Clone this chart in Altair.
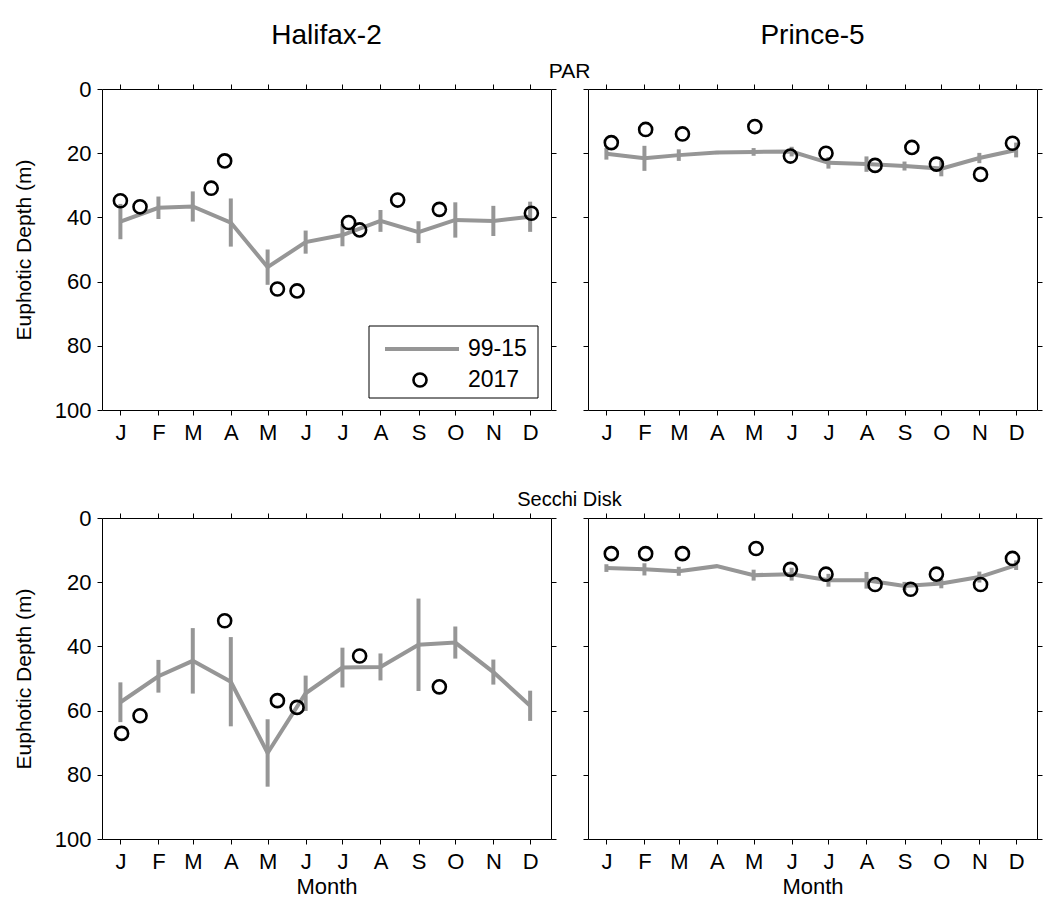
import altair as alt
import pandas as pd

MONTHS = ["J", "F", "M", "A", "M", "J", "J", "A", "S", "O", "N", "D"]
MONTH_DAYS = [15, 46, 74, 105, 135, 166, 196, 227, 258, 288, 319, 349]
Y_TICKS = [0, 20, 40, 60, 80, 100]

# Halifax-2, PAR
hal_par_mean = [41.3, 37.0, 36.6, 41.6, 55.5, 47.7, 45.5, 41.1, 44.6, 40.8, 41.1, 39.8]
hal_par_err = [5.5, 3.5, 4.7, 7.5, 5.5, 3.6, 3.5, 3.4, 3.4, 5.5, 4.7, 4.7]
hal_par_day = [15, 31, 89, 100, 143, 159, 201, 210, 241, 275, 350]
hal_par_2017 = [34.8, 36.7, 30.9, 22.4, 62.3, 62.9, 41.6, 43.9, 34.6, 37.5, 38.7]

# Prince-5, PAR
pr_par_mean = [20.2, 21.6, 20.6, 19.8, 19.6, 19.5, 23.0, 23.4, 24.0, 24.8, 21.5, 19.0]
pr_par_err = [1.8, 3.9, 1.8, 0.5, 1.2, 1.5, 1.8, 2.4, 1.4, 2.4, 1.6, 2.3]
pr_par_day = [19, 47, 77, 136, 165, 194, 234, 264, 284, 320, 346]
pr_par_2017 = [16.7, 12.6, 14.0, 11.7, 20.9, 20.0, 23.8, 18.2, 23.4, 26.6, 16.9]

# Halifax-2, Secchi Disk
hal_sec_mean = [57.4, 49.3, 44.5, 51.0, 73.2, 54.6, 46.6, 46.4, 39.5, 38.8, 48.0, 58.5]
hal_sec_err = [6.2, 5.1, 10.2, 13.9, 10.5, 5.5, 6.2, 4.2, 14.4, 5.0, 3.9, 4.7]
hal_sec_day = [16, 31, 100, 143, 159, 210, 275]
hal_sec_2017 = [67.1, 61.6, 32.0, 56.9, 59.0, 43.0, 52.6]

# Prince-5, Secchi Disk
pr_sec_mean = [15.6, 16.0, 16.6, 15.0, 17.8, 17.5, 19.4, 19.4, 21.2, 20.4, 18.4, 14.7]
pr_sec_err = [1.2, 1.9, 1.4, 0.3, 1.7, 2.0, 2.0, 2.6, 1.3, 1.5, 1.7, 1.5]
pr_sec_day = [19, 47, 77, 137, 165, 194, 234, 263, 284, 320, 346]
pr_sec_2017 = [11.1, 11.1, 11.1, 9.5, 16.0, 17.5, 20.7, 22.2, 17.5, 20.7, 12.6]

GRAY = "#969696"
FONT = "Liberation Sans"
W, H = 449, 321
GAP_X, GAP_Y = 37, 108

label_expr = "[%s][indexof([%s], datum.value)]" % (
    ",".join("'%s'" % m for m in MONTHS),
    ",".join(str(d) for d in MONTH_DAYS),
)

xscale = alt.Scale(domain=[0, 366], nice=False, zero=False)
yscale = alt.Scale(domain=[0, 100], reverse=True, nice=False, zero=False)


def txt(text, x, y, size, align="center"):
    return alt.Chart().mark_text(
        font=FONT, fontSize=size, color="black", align=align, baseline="middle"
    ).encode(x=alt.value(x), y=alt.value(y), text=alt.value(text))


def panel(mean, err, days, vals, left, bottom, extras):
    clim = pd.DataFrame({
        "day": MONTH_DAYS,
        "mean": mean,
        "lo": [m - e for m, e in zip(mean, err)],
        "hi": [m + e for m, e in zip(mean, err)],
    })
    obs = pd.DataFrame({"day": days, "val": vals})

    bx = dict(orient="bottom", values=MONTH_DAYS, labelExpr=label_expr,
              tickSize=5, labelFontSize=22, labelPadding=7)
    if bottom:
        bx.update(title="Month", titleFontSize=22, titlePadding=4)
    else:
        bx.update(title="")
    ly = dict(orient="left", values=Y_TICKS, tickSize=5)
    if left:
        ly.update(labelFontSize=22, labelPadding=6, title="Euphotic Depth (m)",
                  titleFontSize=21, titlePadding=20)
    else:
        ly.update(labels=False, title="")

    bars = alt.Chart(clim).mark_rule(color=GRAY, strokeWidth=4).encode(
        x=alt.X("day:Q", scale=xscale, axis=alt.Axis(**bx)),
        y=alt.Y("lo:Q", scale=yscale, axis=alt.Axis(**ly)),
        y2="hi:Q",
    )
    line = alt.Chart(clim).mark_line(color=GRAY, strokeWidth=4).encode(
        x=alt.X("day:Q", scale=xscale,
                axis=alt.Axis(orient="top", values=MONTH_DAYS, labels=False,
                              tickSize=5, title="")),
        y=alt.Y("mean:Q", scale=yscale,
                axis=alt.Axis(orient="right", values=Y_TICKS, labels=False,
                              tickSize=5, title="")),
    )
    pts = alt.Chart(obs).mark_point(
        shape="circle", filled=False, color="black", size=170,
        strokeWidth=2.6, opacity=1
    ).encode(
        x=alt.X("day:Q", scale=xscale, axis=None),
        y=alt.Y("val:Q", scale=yscale, axis=None),
    )
    layers = [bars, line, pts] + extras
    return alt.layer(*layers).resolve_axis(x="independent", y="independent").properties(
        width=W, height=H
    )


mid = W + GAP_X / 2.0

legend = [
    alt.Chart().mark_rect(fill="white", stroke="black", strokeWidth=1).encode(
        x=alt.value(267), x2=alt.value(436), y=alt.value(237), y2=alt.value(309)),
    alt.Chart().mark_rule(color=GRAY, strokeWidth=4).encode(
        x=alt.value(283), x2=alt.value(357), y=alt.value(260)),
    alt.Chart().mark_point(shape="circle", filled=False, color="black", size=170,
                           strokeWidth=2.6, opacity=1).encode(
        x=alt.value(318), y=alt.value(291)),
    txt("99-15", 366, 260, 23, align="left"),
    txt("2017", 366, 291, 23, align="left"),
]

p11 = panel(hal_par_mean, hal_par_err, hal_par_day, hal_par_2017, True, False,
            legend + [txt("Halifax-2", W / 2.0, -53, 28), txt("PAR", mid, -17, 21)])
p12 = panel(pr_par_mean, pr_par_err, pr_par_day, pr_par_2017, False, False,
            [txt("Prince-5", W / 2.0, -53, 28)])
p21 = panel(hal_sec_mean, hal_sec_err, hal_sec_day, hal_sec_2017, True, True,
            [txt("Secchi Disk", mid, -18, 20)])
p22 = panel(pr_sec_mean, pr_sec_err, pr_sec_day, pr_sec_2017, False, True, [])

chart = alt.concat(
    p11, p12, p21, p22, columns=2,
    spacing={"row": GAP_Y, "column": GAP_X}, bounds="flush"
).properties(
    padding={"left": 13, "top": 22, "right": 2, "bottom": 5}
).configure_view(stroke=None).configure_axis(
    grid=False, domainColor="black", domainWidth=1, tickColor="black", tickWidth=1,
    labelColor="black", titleColor="black", labelFont=FONT, titleFont=FONT,
    titleFontWeight="normal",
)

chart.save("out.html", embed_options={"renderer": "svg", "actions": False})
